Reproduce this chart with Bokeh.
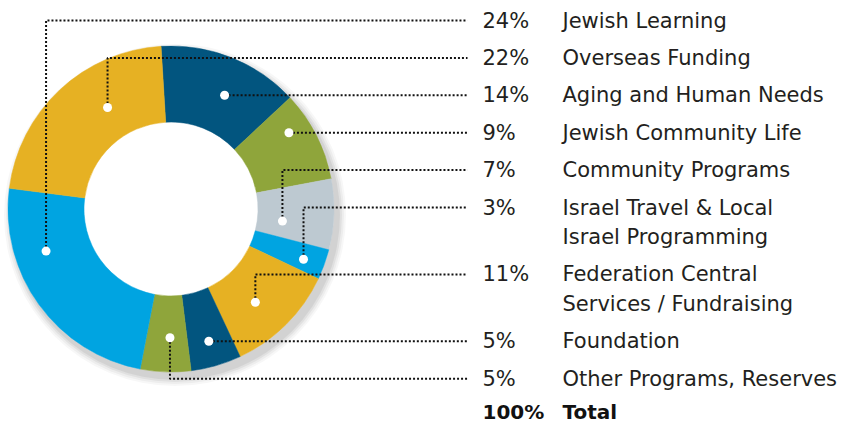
import math
from bokeh.plotting import figure
from bokeh.models import Range1d
from bokeh.core.properties import value
from bokeh.embed import file_html
from bokeh.resources import INLINE

# ---------------- data ----------------
labels = ["Jewish Learning", "Overseas Funding", "Aging and Human Needs",
          "Jewish Community Life", "Community Programs",
          "Israel Travel & Local\nIsrael Programming",
          "Federation Central\nServices / Fundraising",
          "Foundation", "Other Programs, Reserves"]
shares = [24, 22, 14, 9, 7, 3, 11, 5, 5]
pct_labels = ["24%", "22%", "14%", "9%", "7%", "3%", "11%", "5%", "5%"]
total_label = "100%"
total_name = "Total"
colors = ["#00A4E1", "#E6B123", "#02557F", "#8FA53B", "#BDC9D1",
          "#00A4E1", "#E6B123", "#02557F", "#8FA53B"]
# clockwise order of the slices in the ring, starting near 12 o'clock
ring_order = [2, 3, 4, 5, 6, 7, 8, 0, 1]

# ---------------- layout ----------------
W, H = 847, 424
def Y(y):  # reference pixel row -> data y (y up)
    return H - y

CX, CY = 170.5, 208.5
R_OUT, R_IN = 163, 87
START_CW = -3.5
# anchor of each leader dot inside its slice: (fraction of slice span, fraction across ring)
anchor_frac = [(0.70, 0.59), (0.64, 0.43), (0.57, 0.51), (0.32, 0.70), (0.67, 0.33),
               (0.58, 0.72), (0.57, 0.51), (0.51, 0.67), (0.42, 0.55)]
ROW0, ROW_STEP, LINE2 = 20, 37.4, 29.5
LEADER_END = 467
PCT_X, NAME_X = 482, 562
FONT = "DejaVu Sans"
FS = "21px"
FS_TOTAL = "20px"
TXT = "#231F20"

p = figure(width=W, height=H, x_range=Range1d(0, W), y_range=Range1d(0, H),
           output_backend="svg", toolbar_location=None, x_axis_type=None, y_axis_type=None,
           min_border=0, outline_line_color=None)
p.grid.visible = False
p.background_fill_color = "white"

# soft shadow
for k, a in [(8, 0.03), (6, 0.04), (4, 0.05), (2, 0.06)]:
    p.circle(x=CX + 4, y=Y(CY + 6), radius=R_OUT + k, fill_color="#000000",
             fill_alpha=a, line_color=None)
p.circle(x=CX, y=Y(CY), radius=R_OUT, fill_color="white", line_color=None)

# slices
cw = START_CW
slice_span = {}
for i in ring_order:
    c0 = cw
    c1 = cw + shares[i] * 3.6
    slice_span[i] = (c0, c1)
    p.annular_wedge(x=CX, y=Y(CY), inner_radius=R_IN, outer_radius=R_OUT,
                    start_angle=math.radians(90 - c1), end_angle=math.radians(90 - c0),
                    fill_color=colors[i], line_color=colors[i], line_width=0.5)
    cw = c1

# rows
row_y = []
y = ROW0
for lab in labels:
    row_y.append(y)
    y += ROW_STEP + (LINE2 if "\n" in lab else 0)
total_y = y - 4.5

for i, lab in enumerate(labels):
    c0, c1 = slice_span[i]
    fa, fr = anchor_frac[i]
    ang = math.radians(c0 + fa * (c1 - c0))
    r = R_IN + fr * (R_OUT - R_IN)
    dx = CX + r * math.sin(ang)
    dy = CY - r * math.cos(ang)
    ry = row_y[i]
    if abs(dy - ry) < 4:
        dy = ry
    p.line(x=[dx, dx, LEADER_END], y=[Y(dy), Y(ry), Y(ry)], line_color="#111111",
           line_width=2, line_dash="2 2")
    p.scatter(x=[dx], y=[Y(dy)], size=9, fill_color="white", line_color=None)
    p.text(x=[PCT_X], y=[Y(ry)], text=[pct_labels[i]], text_font=value(FONT),
           text_font_size=FS, text_color=TXT, text_baseline="middle")
    for j, part in enumerate(lab.split("\n")):
        p.text(x=[NAME_X], y=[Y(ry + j * LINE2)], text=[part], text_font=value(FONT),
               text_font_size=FS, text_color=TXT, text_baseline="middle")

p.text(x=[PCT_X], y=[Y(total_y)], text=[total_label], text_font=value(FONT),
       text_font_size=FS_TOTAL, text_font_style="bold", text_color="#111111",
       text_baseline="middle")
p.text(x=[NAME_X], y=[Y(total_y)], text=[total_name], text_font=value(FONT),
       text_font_size=FS_TOTAL, text_font_style="bold", text_color="#111111",
       text_baseline="middle")

open("out.html", "w").write(file_html(p, INLINE))
